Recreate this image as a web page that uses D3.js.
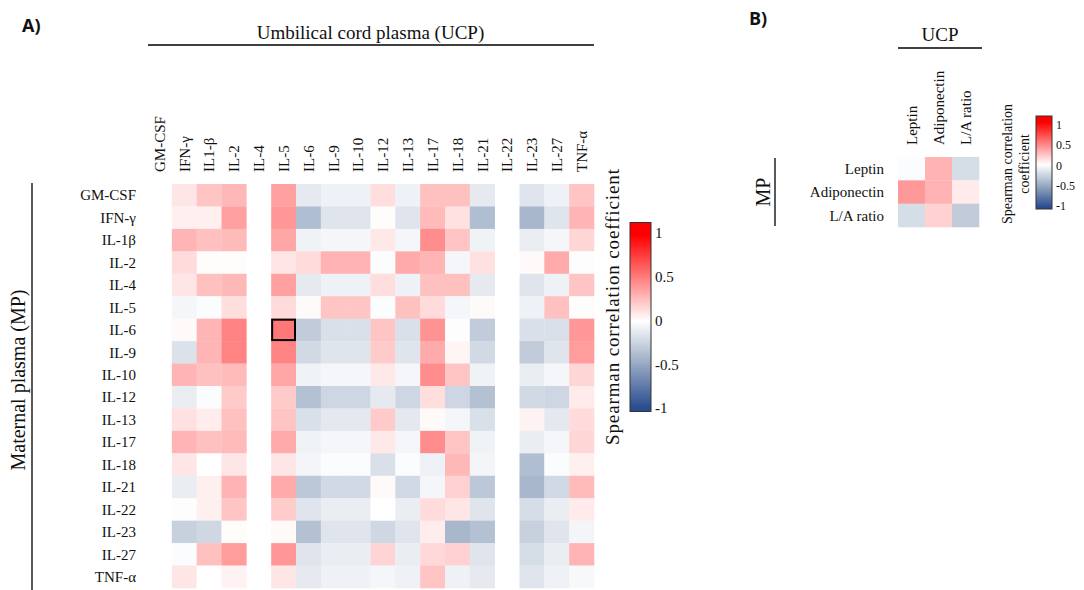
<!DOCTYPE html>
<html>
<head>
<meta charset="utf-8">
<script src="https://cdn.jsdelivr.net/npm/d3@7"></script>
<style>
  body { margin: 0; background: #fff; }
  svg text { font-family: "Liberation Serif", serif; fill: #111; }
  .panel { font-family: "Open Sans", sans-serif !important; font-weight: 700; }
</style>
</head>
<body>
<div id="chart"></div>
<script>
// UCP columns / MP rows (panel A)
const ucpCols = ["GM-CSF", "IFN-γ", "IL1-β", "IL-2", "IL-4", "IL-5", "IL-6", "IL-9", "IL-10",
  "IL-12", "IL-13", "IL-17", "IL-18", "IL-21", "IL-22", "IL-23", "IL-27", "TNF-α"];
const mpRows = ["GM-CSF", "IFN-γ", "IL-1β", "IL-2", "IL-4", "IL-5", "IL-6", "IL-9", "IL-10",
  "IL-12", "IL-13", "IL-17", "IL-18", "IL-21", "IL-22", "IL-23", "IL-27", "TNF-α"];

// Spearman rho, one array per MP row, null = not computed
const rhoA = [
  [null, 0.10, 0.23, 0.28, null, 0.37, -0.12, -0.08, -0.08, 0.13, -0.08, 0.25, 0.25, -0.12, null, -0.15, -0.08, 0.23],
  [null, 0.06, 0.06, 0.37, null, 0.41, -0.38, -0.15, -0.15, 0.01, -0.15, 0.27, 0.12, -0.38, null, -0.42, -0.15, 0.29],
  [null, 0.29, 0.25, 0.27, null, 0.35, -0.07, -0.05, -0.05, 0.09, -0.05, 0.45, 0.23, -0.07, null, -0.10, -0.05, 0.16],
  [null, 0.14, 0.01, 0.01, null, 0.10, 0.14, 0.30, 0.30, -0.02, 0.33, 0.29, -0.05, 0.12, null, 0.02, 0.33, -0.01],
  [null, 0.10, 0.25, 0.28, null, 0.37, -0.12, -0.08, -0.08, 0.13, -0.08, 0.25, 0.25, -0.12, null, -0.15, -0.08, 0.23],
  [null, -0.05, -0.02, 0.13, null, 0.14, 0.02, 0.23, 0.23, -0.02, 0.25, 0.14, -0.05, 0.02, null, -0.08, 0.25, 0.01],
  [null, 0.02, 0.29, 0.49, null, 0.53, -0.30, -0.18, -0.18, 0.23, -0.18, 0.43, -0.01, -0.30, null, -0.18, -0.18, 0.41],
  [null, -0.17, 0.29, 0.49, null, 0.49, -0.22, -0.15, -0.15, 0.21, -0.15, 0.33, 0.04, -0.22, null, -0.30, -0.15, 0.39],
  [null, 0.29, 0.25, 0.27, null, 0.35, -0.07, -0.05, -0.05, 0.09, -0.05, 0.45, 0.23, -0.07, null, -0.10, -0.05, 0.16],
  [null, -0.10, -0.02, 0.21, null, 0.21, -0.36, -0.24, -0.24, -0.12, -0.24, 0.13, -0.24, -0.36, null, -0.22, -0.24, 0.08],
  [null, 0.12, 0.07, 0.25, null, 0.23, -0.18, -0.13, -0.13, 0.21, -0.13, 0.02, -0.05, -0.18, null, 0.05, -0.13, 0.14],
  [null, 0.29, 0.25, 0.27, null, 0.33, -0.07, -0.05, -0.05, 0.09, -0.05, 0.45, 0.23, -0.07, null, -0.10, -0.05, 0.16],
  [null, 0.10, 0.00, 0.10, null, 0.10, -0.06, -0.02, -0.02, -0.18, -0.02, -0.08, 0.28, -0.06, null, -0.38, -0.02, 0.06],
  [null, -0.10, 0.06, 0.30, null, 0.33, -0.32, -0.22, -0.22, 0.02, -0.22, -0.05, 0.18, -0.32, null, -0.42, -0.22, 0.27],
  [null, -0.01, 0.06, 0.23, null, 0.20, -0.15, -0.10, -0.10, 0.00, -0.10, 0.14, 0.10, -0.15, null, -0.20, -0.10, 0.08],
  [null, -0.27, -0.23, 0.01, null, 0.02, -0.36, -0.15, -0.15, -0.23, -0.15, 0.07, -0.42, -0.36, null, -0.27, -0.15, -0.06],
  [null, -0.02, 0.25, 0.39, null, 0.41, -0.15, -0.10, -0.10, 0.17, -0.10, 0.15, 0.18, -0.15, null, -0.20, -0.10, 0.29],
  [null, 0.10, 0.00, 0.05, null, 0.10, -0.12, -0.08, -0.08, -0.05, -0.08, 0.23, -0.08, -0.12, null, -0.15, -0.08, -0.04]
];
const highlight = { row: "IL-6", col: "IL-5" };

// panel B
const adipoCols = ["Leptin", "Adiponectin", "L/A ratio"];
const adipoRows = ["Leptin", "Adiponectin", "L/A ratio"];
const rhoB = [
  [-0.02, 0.30, -0.20],
  [0.40, 0.30, 0.08],
  [-0.20, 0.18, -0.30]
];
const legendTicks = [1, 0.5, 0, -0.5, -1];

const W = 1084, H = 590;
const svg = d3.select("#chart").append("svg")
    .attr("width", W)
    .attr("height", H);

const color = d3.scaleLinear()
    .domain([-1, -0.5, 0, 0.5, 1])
    .range(["#2b4d90", "#97a9c2", "#ffffff", "#ff8080", "#ff0000"])
    .clamp(true);

const defs = svg.append("defs");
const grad = defs.append("linearGradient")
    .attr("id", "cbar")
    .attr("x1", 0).attr("y1", 1).attr("x2", 0).attr("y2", 0);
d3.range(-1.05, 1.151, 0.05).forEach(v => {
    grad.append("stop")
        .attr("offset", (v + 1.05) / 2.2)
        .attr("stop-color", color(v));
});

function heatmap(g, cols, rows, values, x, y) {
    const cells = [];
    values.forEach((r, i) => r.forEach((v, j) => {
        if (v !== null) cells.push({ row: rows[i], col: cols[j], v: v });
    }));
    g.append("g").selectAll("rect")
        .data(cells)
        .enter().append("rect")
        .attr("x", d => x(d.col))
        .attr("y", d => y(d.row))
        .attr("width", x.bandwidth() + 0.3)
        .attr("height", y.bandwidth() + 0.3)
        .attr("fill", d => color(d.v));

    // row labels
    g.append("g").attr("class", "rowlab").selectAll("text")
        .data(rows)
        .enter().append("text")
        .attr("x", x.range()[0] - 11)
        .attr("y", d => y(d) + y.bandwidth() / 2)
        .attr("dy", "0.35em")
        .attr("text-anchor", "end")
        .attr("font-size", 15)
        .text(d => d);

    // column labels
    g.append("g").selectAll("text")
        .data(cols)
        .enter().append("text")
        .attr("transform", d => `translate(${x(d) + x.bandwidth() / 2},${y.range()[0] - 12}) rotate(-90)`)
        .attr("dy", "0.35em")
        .attr("text-anchor", "start")
        .attr("font-size", 15)
        .text(d => d);
}

function colorbar(g, x0, w, yTop, yBot, yScale, fs) {
    g.append("rect")
        .attr("x", x0).attr("y", yTop)
        .attr("width", w).attr("height", yBot - yTop)
        .attr("fill", "url(#cbar)")
        .attr("stroke", "#333")
        .attr("stroke-width", 1);
    g.append("g").selectAll("text")
        .data(legendTicks)
        .enter().append("text")
        .attr("x", x0 + w + 4)
        .attr("y", d => yScale(d))
        .attr("dy", "0.35em")
        .attr("font-size", fs)
        .text(d => d);
}

// ---------- Panel A ----------
const xA = d3.scaleBand().domain(ucpCols).range([147, 594]);
const yA = d3.scaleBand().domain(mpRows).range([184, 588]);
const gA = svg.append("g");
heatmap(gA, ucpCols, mpRows, rhoA, xA, yA);

gA.append("rect")
    .attr("x", xA(highlight.col) + 1)
    .attr("y", yA(highlight.row) + 1)
    .attr("width", xA.bandwidth() - 2)
    .attr("height", yA.bandwidth() - 2)
    .attr("fill", "none")
    .attr("stroke", "#000")
    .attr("stroke-width", 2);

gA.append("text").attr("class", "panel")
    .attr("x", 22).attr("y", 32)
    .attr("font-size", 18)
    .text("A)");

gA.append("text")
    .attr("x", (xA.range()[0] + xA.range()[1]) / 2).attr("y", 39)
    .attr("text-anchor", "middle")
    .attr("font-size", 19)
    .text("Umbilical cord plasma (UCP)");
gA.append("line")
    .attr("x1", 148).attr("x2", 594)
    .attr("y1", 45).attr("y2", 45)
    .attr("stroke", "#000").attr("stroke-width", 1.3);

gA.append("line")
    .attr("x1", 32).attr("x2", 32)
    .attr("y1", 183).attr("y2", 590)
    .attr("stroke", "#000").attr("stroke-width", 1.3);
gA.append("text")
    .attr("transform", "translate(18,380) rotate(-90)")
    .attr("dy", "0.35em")
    .attr("text-anchor", "middle")
    .attr("font-size", 20)
    .text("Maternal plasma (MP)");

const cbA = d3.scaleLinear().domain([-1, 1]).range([408, 233]);
colorbar(gA, 630, 21, cbA(1.12), cbA(-1.04), cbA, 15);
gA.append("text")
    .attr("transform", "translate(612,307) rotate(-90)")
    .attr("dy", "0.35em")
    .attr("text-anchor", "middle")
    .attr("font-size", 19)
    .attr("textLength", 276)
    .attr("lengthAdjust", "spacing")
    .text("Spearman correlation coefficient");

// ---------- Panel B ----------
const xB = d3.scaleBand().domain(adipoCols).range([898, 979]);
const yB = d3.scaleBand().domain(adipoRows).range([157, 227]);
const gB = svg.append("g");
heatmap(gB, adipoCols, adipoRows, rhoB, xB, yB);
gB.select(".rowlab").selectAll("text").attr("x", 884);

gB.append("text").attr("class", "panel")
    .attr("x", 749).attr("y", 25)
    .attr("font-size", 18)
    .text("B)");

gB.append("text")
    .attr("x", 940).attr("y", 41)
    .attr("text-anchor", "middle")
    .attr("font-size", 19)
    .text("UCP");
gB.append("line")
    .attr("x1", 898).attr("x2", 982)
    .attr("y1", 48).attr("y2", 48)
    .attr("stroke", "#000").attr("stroke-width", 1.3);

gB.append("line")
    .attr("x1", 775).attr("x2", 775)
    .attr("y1", 158).attr("y2", 226)
    .attr("stroke", "#000").attr("stroke-width", 1.3);
gB.append("text")
    .attr("transform", "translate(763,192) rotate(-90)")
    .attr("dy", "0.35em")
    .attr("text-anchor", "middle")
    .attr("font-size", 20)
    .text("MP");

const cbB = d3.scaleLinear().domain([-1, 1]).range([206, 125]);
colorbar(gB, 1036, 16, 116, 209, cbB, 12);
const cbTitle = gB.append("text")
    .attr("transform", "translate(1016,164) rotate(-90)")
    .attr("text-anchor", "middle")
    .attr("font-size", 14);
cbTitle.append("tspan").attr("x", 0).attr("dy", "-0.3em").text("Spearman correlation");
cbTitle.append("tspan").attr("x", 0).attr("dy", "1.25em").text("coefficient");
</script>
</body>
</html>
